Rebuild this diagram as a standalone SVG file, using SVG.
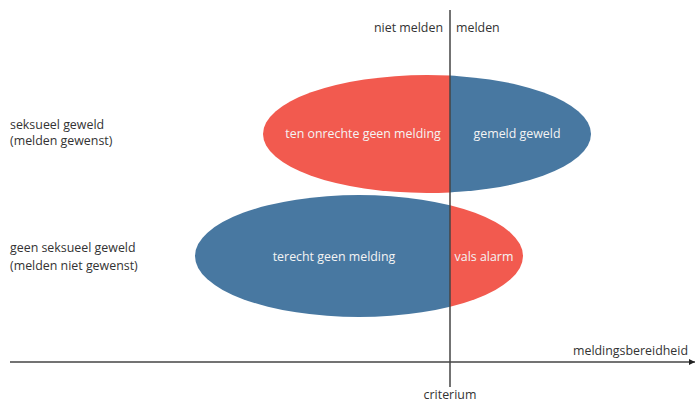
<svg xmlns="http://www.w3.org/2000/svg" width="696" height="402" viewBox="0 0 696 402">
<defs>
<style>
.t{font-family:"Open Sans","Noto Sans",sans-serif;font-size:12.4px;fill:#333}
.w{font-family:"Open Sans","Noto Sans",sans-serif;font-size:12.4px;fill:#f4f4f4;text-anchor:middle}
.red{fill:#f25a4f}
.blue{fill:#4878a1}
.ln{stroke:#444;stroke-width:1.5;fill:none}
</style>
<clipPath id="L"><rect x="0" y="0" width="450" height="402"/></clipPath>
<clipPath id="R"><rect x="450" y="0" width="246" height="402"/></clipPath>
<marker id="arr" viewBox="0 0 10 10" refX="10" refY="5" markerWidth="6" markerHeight="6" markerUnits="userSpaceOnUse" orient="auto"><path d="M0,0 L10,5 L0,10 z" fill="#222"/></marker>
</defs>
<rect width="696" height="402" fill="#fff"/>
<g id="top-ellipse">
<ellipse class="red" cx="427" cy="134" rx="164" ry="59" clip-path="url(#L)"/>
<ellipse class="blue" cx="427" cy="134" rx="164" ry="59" clip-path="url(#R)"/>
<text class="w" x="363" y="138">ten onrechte geen melding</text>
<text class="w" x="517" y="138">gemeld geweld</text>
</g>
<g id="bottom-ellipse">
<ellipse class="blue" cx="359" cy="256" rx="164" ry="61" clip-path="url(#L)"/>
<ellipse class="red" cx="359" cy="256" rx="164" ry="61" clip-path="url(#R)"/>
<text class="w" x="334" y="261">terecht geen melding</text>
<text class="w" x="484" y="261">vals alarm</text>
</g>
<g id="connectors">
<line class="ln" x1="450" y1="10" x2="450" y2="387"/>
<line class="ln" x1="10" y1="362" x2="695" y2="362" marker-end="url(#arr)"/>
</g>
<g id="labels">
<text class="t" x="443" y="32" text-anchor="end">niet melden</text>
<text class="t" x="456" y="32">melden</text>
<text class="t" x="10" y="129">seksueel geweld</text>
<text class="t" x="10" y="145">(melden gewenst)</text>
<text class="t" x="10" y="252">geen seksueel geweld</text>
<text class="t" x="10" y="270">(melden niet gewenst)</text>
<text class="t" x="688" y="355" text-anchor="end">meldingsbereidheid</text>
<text class="t" x="450" y="399" text-anchor="middle">criterium</text>
</g>
</svg>
